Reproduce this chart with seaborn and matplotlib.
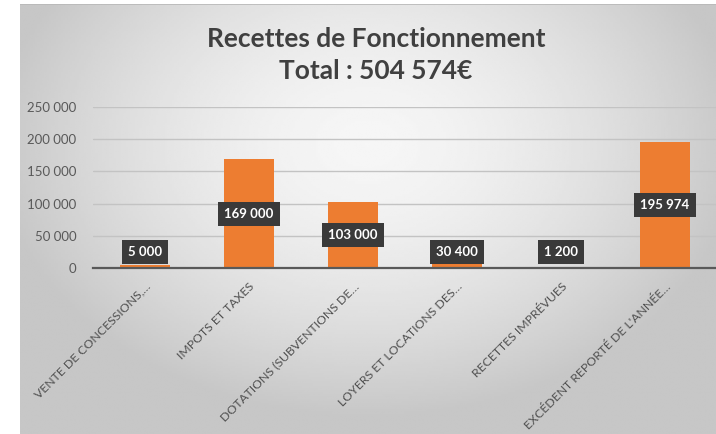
# recettes_fonctionnement.py
# Bar chart of operating revenue, Excel-like look

import numpy as np
import matplotlib
matplotlib.use("Agg")
import matplotlib.pyplot as plt
from matplotlib.ticker import FuncFormatter
import seaborn as sns

# ----------------------------
# Data
# ----------------------------
categories = [
    "VENTE DE CONCESSIONS,…",
    "IMPOTS ET TAXES",
    "DOTATIONS (SUBVENTIONS DE…",
    "LOYERS ET LOCATIONS DES…",
    "RECETTES IMPRÉVUES",
    "EXCÉDENT REPORTÉ DE L'ANNÉE…",
]
values = [5000, 169000, 103000, 30400, 1200, 195974]
y_ticks = [0, 50000, 100000, 150000, 200000, 250000]
title_lines = ["Recettes de Fonctionnement", "Total : 504 574€"]

BAR_COLOR = "#ED7D31"
TEXT_GRAY = "#595959"

sns.set_theme(style="white")
plt.rcParams["font.family"] = ["Lato", "DejaVu Sans"]


def fmt_thousands(v, _pos=None):
    return f"{int(round(v)):,}".replace(",", " ")


fig = plt.figure(figsize=(7.16, 4.34), dpi=100)
fig.patch.set_facecolor("white")

# ----------------------------
# Gray gradient panel behind the chart
# ----------------------------
bg = fig.add_axes([20 / 716, 0, 696 / 716, 430 / 434])
bg.set_axis_off()
gx, gy = np.meshgrid(np.linspace(-1, 1, 300), np.linspace(-1, 1, 200))
r = np.sqrt((gx / 1.05) ** 2 + ((gy + 0.35) / 1.25) ** 2)
shade = np.clip(0.965 - 0.18 * r ** 1.6, 0.78, 0.965)
bg.imshow(shade, cmap="gray", vmin=0, vmax=1, aspect="auto",
          extent=[0, 1, 0, 1], interpolation="bilinear")
bg.axhline(1, color="#b8b8b8", lw=1.2)

# ----------------------------
# Bar chart
# ----------------------------
ax = fig.add_axes([93 / 716, 1 - 268.3 / 434, 624 / 716, 161.6 / 434])
ax.patch.set_alpha(0)
sns.barplot(x=categories, y=values, color=BAR_COLOR, saturation=1,
            width=0.49, linewidth=0, ax=ax, zorder=3)

ax.set_ylim(0, 250000)
ax.set_xlim(-0.5, len(categories) - 0.5)
ax.set_yticks(y_ticks)
ax.yaxis.set_major_formatter(FuncFormatter(fmt_thousands))
ax.grid(axis="y", color="#c3c3c3", lw=1.0, zorder=0)
ax.set_axisbelow(True)
for side in ["top", "right", "left"]:
    ax.spines[side].set_visible(False)
ax.spines["bottom"].set_color(TEXT_GRAY)
ax.spines["bottom"].set_linewidth(1.6)
ax.spines["bottom"].set_zorder(4)

ax.set_xticks(range(len(categories)))
ax.set_xticklabels(categories, rotation=45, ha="right",
                   rotation_mode="anchor", fontsize=8.8, color="#505050")
ax.set_xticks(np.arange(-0.5, len(categories)), minor=True)
ax.tick_params(axis="x", which="major", length=0, pad=9)
ax.tick_params(axis="x", which="minor", length=5, width=1.3,
               color=TEXT_GRAY, direction="out")
ax.tick_params(axis="y", length=0, pad=12, labelsize=9.5, labelcolor=TEXT_GRAY)
ax.set_xlabel("")
ax.set_ylabel("")

# value labels: dark boxes, centred in the bar or just above small bars
for i, v in enumerate(values):
    ax.text(i, max(v / 2, 25000), fmt_thousands(v), ha="center", va="center",
            color="white", fontsize=9.5, fontweight="bold", zorder=6,
            bbox=dict(boxstyle="square,pad=0.45", facecolor="#3a3a3a",
                      edgecolor="none"))

# ----------------------------
# Title
# ----------------------------
fig.text(376 / 716, 1 - 39 / 434, title_lines[0], ha="center", va="center",
         fontsize=19, fontweight="bold", color="#404040")
fig.text(376 / 716, 1 - 71 / 434, title_lines[1], ha="center", va="center",
         fontsize=19, fontweight="bold", color="#404040")

plt.savefig("out.png", dpi=100)
